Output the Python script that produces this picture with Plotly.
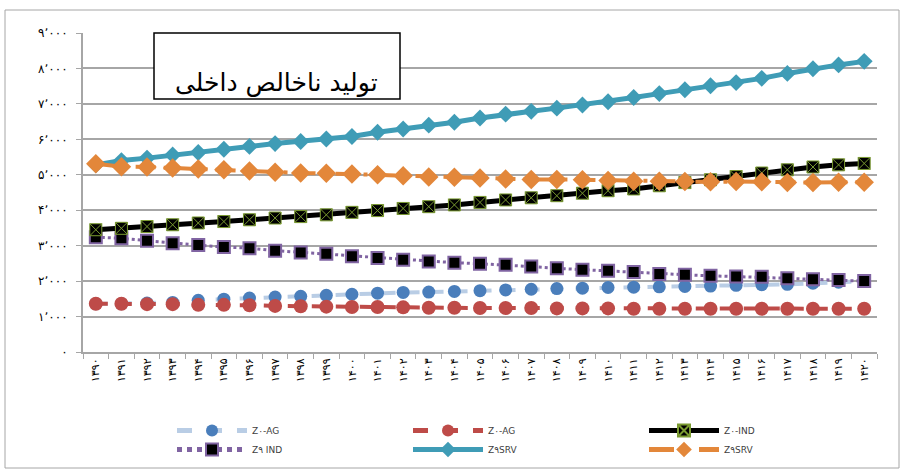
import plotly.graph_objects as go

years = ["۱۳۹۰","۱۳۹۱","۱۳۹۲","۱۳۹۳","۱۳۹۴","۱۳۹۵","۱۳۹۶","۱۳۹۷","۱۳۹۸","۱۳۹۹",
         "۱۴۰۰","۱۴۰۱","۱۴۰۲","۱۴۰۳","۱۴۰۴","۱۴۰۵","۱۴۰۶","۱۴۰۷","۱۴۰۸","۱۴۰۹",
         "۱۴۱۰","۱۴۱۱","۱۴۱۲","۱۴۱۳","۱۴۱۴","۱۴۱۵","۱۴۱۶","۱۴۱۷","۱۴۱۸","۱۴۱۹","۱۴۲۰"]

z0_ag = [1360,1360,1380,1400,1460,1490,1520,1550,1570,1600,1630,1660,1680,1690,1710,1730,
         1750,1770,1790,1800,1820,1830,1840,1850,1860,1880,1900,1910,1940,1970,2000]
z9_ag = [1360,1360,1350,1350,1330,1330,1320,1300,1290,1280,1270,1270,1260,1250,1250,1240,
         1240,1240,1230,1230,1230,1220,1220,1220,1220,1220,1220,1220,1220,1220,1220]
z0_ind = [3450,3490,3540,3590,3640,3680,3730,3780,3820,3870,3940,3990,4050,4100,4150,4220,
          4290,4350,4410,4480,4550,4600,4690,4780,4860,4950,5050,5140,5220,5280,5320]
z9_ind = [3240,3210,3140,3070,3020,2960,2930,2860,2810,2770,2700,2650,2600,2550,2520,2490,
          2460,2410,2360,2320,2290,2260,2200,2180,2150,2130,2120,2080,2050,2030,2000]
z9_srv_a = [5280,5400,5470,5560,5630,5720,5800,5880,5940,6010,6080,6200,6290,6400,6480,6600,
            6710,6790,6880,6970,7060,7180,7290,7400,7510,7600,7720,7860,7990,8100,8200]
z9_srv_b = [5310,5230,5220,5190,5160,5140,5110,5070,5050,5040,5020,5000,4970,4940,4930,4910,
            4880,4870,4870,4860,4840,4820,4820,4810,4800,4810,4800,4780,4780,4790,4790]

names = ["Z۰-AG", "Z۰-AG", "Z۰-IND", "Z۹ IND", "Z۹SRV", "Z۹SRV"]
ytick_vals = [0,1000,2000,3000,4000,5000,6000,7000,8000,9000]
ytick_text = ["۰","۱٬۰۰۰","۲٬۰۰۰","۳٬۰۰۰","۴٬۰۰۰","۵٬۰۰۰","۶٬۰۰۰","۷٬۰۰۰","۸٬۰۰۰","۹٬۰۰۰"]
title_text = "تولید ناخالص داخلی"

fig = go.Figure()
fig.add_trace(go.Scatter(x=years, y=z0_ag, name=names[0], mode="lines+markers",
    line=dict(color="#b9cde5", width=4, dash="dash"),
    marker=dict(symbol="circle", size=13, color="#4a7ebb")))
fig.add_trace(go.Scatter(x=years, y=z9_ag, name=names[1], mode="lines+markers",
    line=dict(color="#be4b48", width=4, dash="dash"),
    marker=dict(symbol="circle", size=14, color="#be4b48")))
fig.add_trace(go.Scatter(x=years, y=z9_ind, name=names[3], mode="lines+markers",
    line=dict(color="#8064a2", width=3, dash="dot"),
    marker=dict(symbol="square", size=12, color="#000000", line=dict(color="#8064a2", width=2))))
fig.add_trace(go.Scatter(x=years, y=z0_ind, name=names[2], mode="lines+markers",
    line=dict(color="#000000", width=5),
    marker=dict(symbol="square-x", size=12, color="#000000", line=dict(color="#7a9a30", width=1))))
fig.add_trace(go.Scatter(x=years, y=z9_srv_a, name=names[4], mode="lines+markers",
    line=dict(color="#3f9cb6", width=5),
    marker=dict(symbol="diamond", size=13, color="#3f9cb6")))
fig.add_trace(go.Scatter(x=years, y=z9_srv_b, name=names[5], mode="lines+markers",
    line=dict(color="#e3873a", width=4, dash="longdashdot"),
    marker=dict(symbol="diamond", size=15, color="#e3873a")))

# legend order as in reference
order = [0, 1, 3, 2, 4, 5]
for rank, i in enumerate(order):
    fig.data[i].legendrank = rank + 1

L, R, T, B = 83, 28, 33, 120
W, H = 905, 472
pw, ph = W - L - R, H - T - B
def px(x):
    return (x - L) / pw
def py(y):
    return (H - B - y) / ph

fig.add_shape(type="rect", xref="paper", yref="paper",
              x0=px(5), x1=px(899), y0=py(468), y1=py(10),
              line=dict(color="#a6a6a6", width=1), layer="below")
fig.add_shape(type="rect", xref="paper", yref="paper",
              x0=px(154), x1=px(400), y0=py(99), y1=py(33),
              line=dict(color="#000000", width=1.5), fillcolor="white", layer="above")
fig.add_annotation(xref="paper", yref="paper", x=px(277 - 104), y=py(66), text=title_text,
                   showarrow=False, font=dict(family="DejaVu Sans", size=25, color="#000000"))

fig.update_layout(
    template="none",
    width=W, height=H,
    margin=dict(l=L, r=R, t=T, b=B, autoexpand=False),
    paper_bgcolor="white", plot_bgcolor="white",
    font=dict(family="DejaVu Sans", color="#000000"),
    showlegend=True,
    legend=dict(orientation="h", x=px(172), y=py(416), xanchor="left", yanchor="top",
                itemwidth=70, entrywidth=151, entrywidthmode="pixels", tracegroupgap=0,
                itemsizing="constant", bgcolor="rgba(0,0,0,0)",
                font=dict(size=9, color="#404040"), traceorder="normal"),
    xaxis=dict(type="category", showgrid=False, showline=True, linecolor="#a6a6a6",
               linewidth=2, ticks="outside", ticklen=5, tickcolor="#a6a6a6",
               tickson="boundaries", tickangle=-90, tickfont=dict(size=11),
               range=[-0.5, 30.5], automargin=False),
    yaxis=dict(range=[0, 9000], tickvals=ytick_vals, ticktext=ytick_text,
               showgrid=True, gridcolor="#a6a6a6", gridwidth=2, showline=True,
               linecolor="#a6a6a6", linewidth=2, ticks="outside", ticklen=5,
               tickcolor="#a6a6a6", ticklabelstandoff=6, tickfont=dict(size=12),
               zeroline=False, automargin=False),
)

fig.write_html("out.html", config={"displayModeBar": False},
               post_script="document.body.style.margin='0';")
